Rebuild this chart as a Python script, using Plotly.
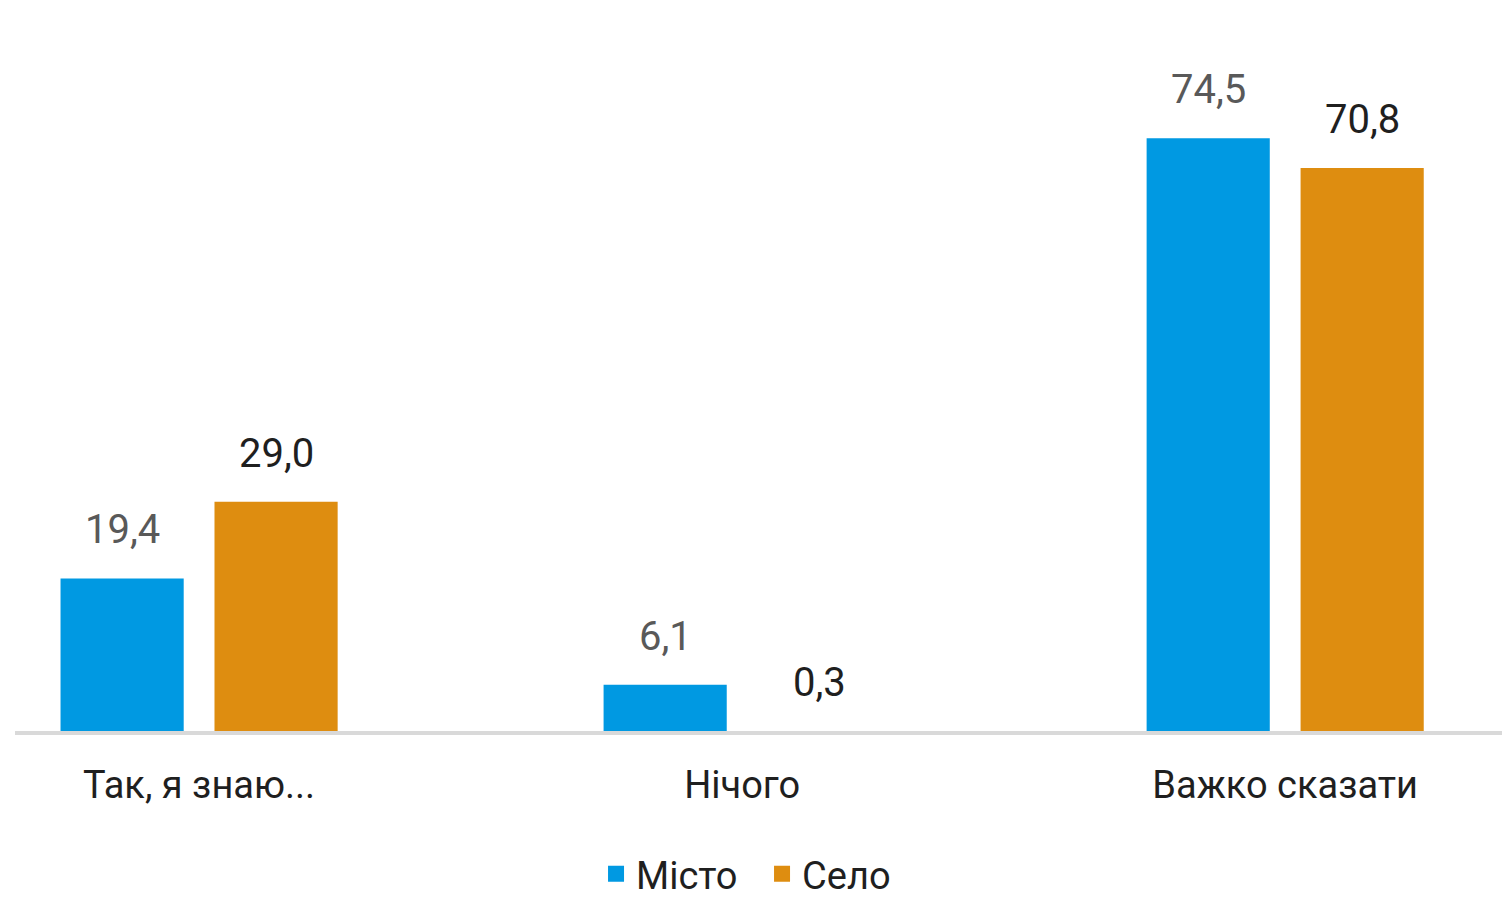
import plotly.graph_objects as go

categories = ["Так, я знаю...", "Нічого", "Важко сказати"]
misto = [19.4, 6.1, 74.5]
selo = [29.0, 0.3, 70.8]
series_names = ["Місто", "Село"]

BLUE = "#0099E2"
ORANGE = "#DE8D10"
FONT = "Roboto"

BARGAP = 0.433
BARGROUPGAP = 0.2

fig = go.Figure()
fig.add_trace(go.Bar(x=categories, y=misto, name=series_names[0], marker_color=BLUE,
                     marker_line_width=0, showlegend=False))
fig.add_trace(go.Bar(x=categories, y=selo, name=series_names[1], marker_color=ORANGE,
                     marker_line_width=0, showlegend=False))

# legend proxies with square swatches
for nm, col in zip(series_names, [BLUE, ORANGE]):
    fig.add_trace(go.Scatter(x=[None], y=[None], mode="markers", name=nm,
                             marker=dict(symbol="square", size=22, color=col)))

def fmt(v):
    return f"{v:.1f}".replace(".", ",")

half_slot = (1 - BARGAP) / 4
annotations = []
for i, (a, b) in enumerate(zip(misto, selo)):
    annotations.append(dict(x=i - half_slot, y=a, xref="x", yref="y", text=fmt(a),
                            showarrow=False, yanchor="bottom", yshift=23,
                            font=dict(family=FONT, size=40, color="#595959")))
    annotations.append(dict(x=i + half_slot, y=b, xref="x", yref="y", text=fmt(b),
                            showarrow=False, yanchor="bottom", yshift=23,
                            font=dict(family=FONT, size=40, color="#1F1F1F")))

fig.update_layout(
    width=1502, height=891,
    margin=dict(l=7, r=0, t=32, b=168),
    plot_bgcolor="white", paper_bgcolor="white",
    barmode="group", bargap=BARGAP, bargroupgap=BARGROUPGAP,
    font=dict(family=FONT, size=38, color="#1F1F1F"),
    annotations=annotations,
    legend=dict(orientation="h", xref="container", x=0.3915, xanchor="left",
                yref="container", y=0.028, yanchor="middle",
                entrywidth=121, entrywidthmode="pixels",
                font=dict(family=FONT, size=38, color="#1F1F1F"),
                itemclick=False),
    showlegend=True,
)
fig.update_xaxes(range=[-0.339, 2.414], showline=True, linecolor="#D9D9D9", linewidth=4,
                 showgrid=False, ticks="", ticklabelstandoff=17,
                 tickfont=dict(family=FONT, size=38, color="#1F1F1F"),
                 zeroline=False)
fig.update_yaxes(range=[0.3, 86.81], visible=False, showgrid=False, zeroline=False)

fig.write_html("out.html")
